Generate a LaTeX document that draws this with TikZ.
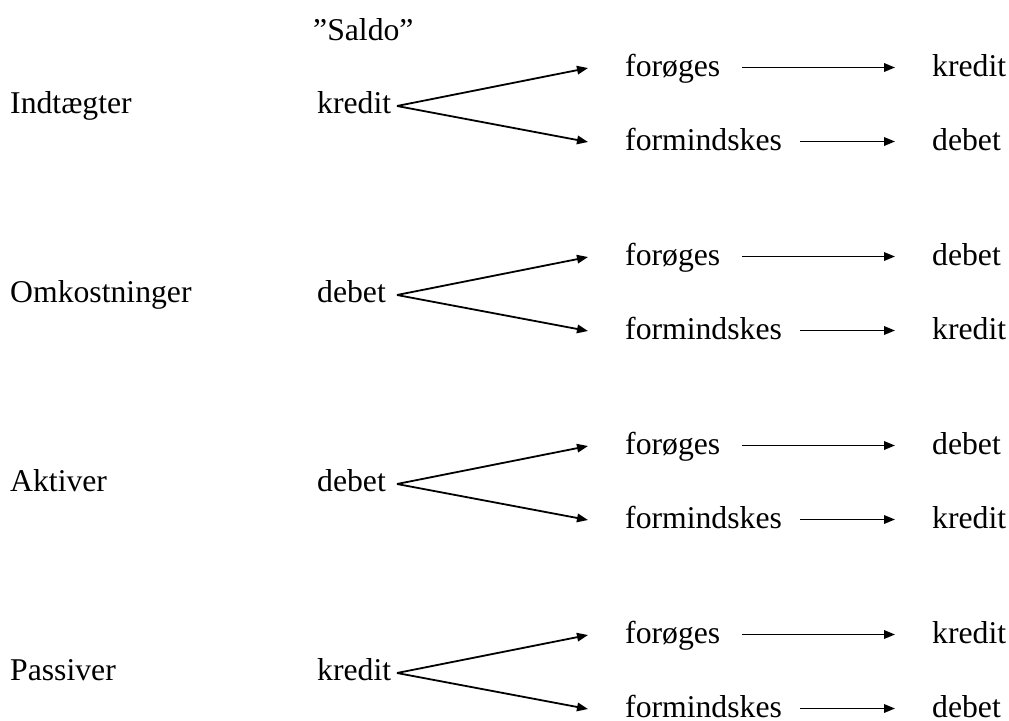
\documentclass[tikz,border=0pt]{standalone}
\usepackage{fontspec}
\setmainfont{Liberation Serif}
\usetikzlibrary{arrows.meta}
\begin{document}
\begin{tikzpicture}[x=1pt,y=-1pt,
  lbl/.style={inner sep=0pt,anchor=base west,font=\fontsize{31.7}{38}\selectfont},
  conn/.style={line width=1.8pt,-{Triangle[length=11pt,width=8.5pt]}}]
\useasboundingbox (0,0) rectangle (1009,720);
\node[lbl] (saldo) at (313,40) {”Saldo”};
\foreach \i/\y/\name/\mid/\up/\dn in {1/113/Indtægter/kredit/kredit/debet,
  2/302/Omkostninger/debet/debet/kredit,
  3/491/Aktiver/debet/debet/kredit,
  4/680/Passiver/kredit/kredit/debet}{
  \node[lbl] (l\i) at (10,\y) {\name};
  \node[lbl] (m\i) at (317,\y) {\mid};
  \node[lbl] (u\i) at (625,\y-37) {forøges};
  \node[lbl] (d\i) at (625,\y+37) {formindskes};
  \node[lbl] (ur\i) at (932,\y-37) {\up};
  \node[lbl] (dr\i) at (932,\y+37) {\dn};
  \coordinate (b\i) at (397,\y-7);
  \draw[conn] (b\i) -- ([xshift=-37pt,yshift=8pt]u\i.base west);
  \draw[conn] (b\i) -- ([xshift=-37pt,yshift=8pt]d\i.base west);
  \draw[conn] ([xshift=22pt,yshift=8.5pt]u\i.base east) -- ([xshift=-37pt,yshift=8.5pt]ur\i.base west);
  \draw[conn] ([xshift=18pt,yshift=8.5pt]d\i.base east) -- ([xshift=-37pt,yshift=8.5pt]dr\i.base west);
}
\end{tikzpicture}
\end{document}
